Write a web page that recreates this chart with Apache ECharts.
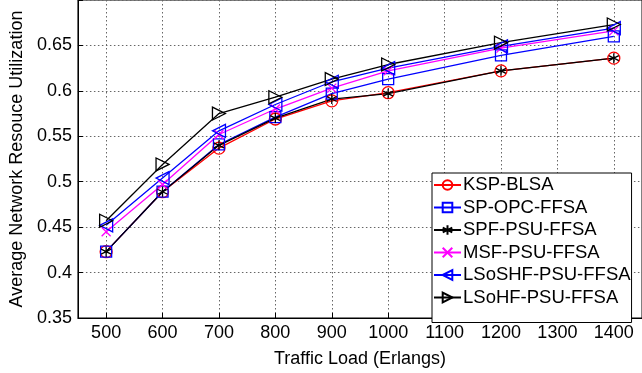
<!DOCTYPE html>
<html>
<head>
<meta charset="utf-8">
<script src="https://cdn.jsdelivr.net/npm/echarts@6/dist/echarts.min.js"></script>
<style>
html,body{margin:0;padding:0;background:#fff;}
#chart{width:642px;height:373px;}
</style>
</head>
<body>
<div id="chart"></div>
<script>
var traffic = [500, 600, 700, 800, 900, 1000, 1200, 1400];
var xTicks = [500, 600, 700, 800, 900, 1000, 1100, 1200, 1300, 1400];
var seriesNames = ['KSP-BLSA', 'SP-OPC-FFSA', 'SPF-PSU-FFSA', 'MSF-PSU-FFSA', 'LSoSHF-PSU-FFSA', 'LSoHF-PSU-FFSA'];
var kspBlsa   = [0.423, 0.489, 0.537, 0.569, 0.589, 0.598, 0.622, 0.636];
var spOpc     = [0.423, 0.489, 0.541, 0.571, 0.597, 0.613, 0.639, 0.660];
var spfPsu    = [0.423, 0.489, 0.540, 0.570, 0.591, 0.597, 0.622, 0.636];
var msfPsu    = [0.445, 0.497, 0.552, 0.580, 0.603, 0.622, 0.647, 0.666];
var lsoshfPsu = [0.452, 0.504, 0.556, 0.585, 0.610, 0.625, 0.649, 0.669];
var lsohfPsu  = [0.457, 0.519, 0.575, 0.593, 0.613, 0.629, 0.653, 0.673];

var values = [kspBlsa, spOpc, spfPsu, msfPsu, lsoshfPsu, lsohfPsu];
var colors = ['#ff0000', '#0000ff', '#000000', '#ff00ff', '#0000ff', '#000000'];
var symbols = [
  'circle',
  'rect',
  'path://M0,-1L0,1M-0.87,-0.5L0.87,0.5M-0.87,0.5L0.87,-0.5',
  'path://M-1,-1L1,1M-1,1L1,-1',
  'path://M-1,0L1,-1L1,1Z',
  'path://M1,0L-1,-1L-1,1Z'
];
var sizes = [12, 11, 10, 9, 13, 13];
var font = 'Liberation Sans, Arial, sans-serif';

function pairs(ys) { return traffic.map(function (x, i) { return [x, ys[i]]; }); }

var series = seriesNames.map(function (name, i) {
  return {
    name: name,
    type: 'line',
    data: pairs(values[i]),
    symbol: symbols[i],
    symbolSize: sizes[i],
    showAllSymbol: true,
    lineStyle: { color: colors[i], width: 1.3 },
    itemStyle: { color: 'rgba(255,255,255,0)', borderColor: colors[i], borderWidth: 1.3 },
    emphasis: { disabled: true },
    animation: false
  };
});

var chart = echarts.init(document.getElementById('chart'), null, { renderer: 'canvas' });
chart.setOption({
  backgroundColor: '#ffffff',
  animation: false,
  grid: { left: 67, right: -3, top: 0, bottom: 48, show: true, borderColor: '#000', borderWidth: 1, backgroundColor: 'transparent' },
  legend: {
    orient: 'vertical',
    left: 432, top: 173,
    data: seriesNames,
    backgroundColor: '#ffffff',
    borderColor: '#000',
    borderWidth: 1,
    borderRadius: 0,
    padding: [2, 1, 15, 1],
    itemGap: 2.5,
    itemWidth: 27,
    itemHeight: 12,
    textStyle: { fontFamily: font, fontSize: 18.5, color: '#000', lineHeight: 20, padding: [0, 0, 0, -3] }
  },
  xAxis: {
    type: 'value',
    min: 450, max: 1450,
    name: 'Traffic Load (Erlangs)',
    nameLocation: 'middle',
    nameGap: 32,
    nameTextStyle: { fontFamily: font, fontSize: 18, color: '#000' },
    axisLine: { show: true, lineStyle: { color: '#000', width: 1 } },
    axisTick: { show: true, inside: true, length: 5, lineStyle: { color: '#000' }, customValues: xTicks },
    axisLabel: { fontFamily: font, fontSize: 18, color: '#000', margin: 6, customValues: xTicks,
      formatter: function (v) { return String(v); } },
    splitLine: { show: true, lineStyle: { color: '#666', type: [1.5, 2.5], width: 1 } }
  },
  yAxis: {
    type: 'value',
    min: 0.35, max: 0.7, interval: 0.05,
    name: 'Average Network Resouce Utilization',
    nameLocation: 'middle',
    nameGap: 50,
    nameTextStyle: { fontFamily: font, fontSize: 18, color: '#000' },
    axisLine: { show: true, lineStyle: { color: '#000', width: 1 } },
    axisTick: { show: true, inside: true, length: 5, lineStyle: { color: '#000' } },
    axisLabel: {
      fontFamily: font, fontSize: 18, color: '#000', margin: 6,
      formatter: function (v) { return v > 0.69 ? '' : String(+v.toFixed(2)); }
    },
    splitLine: { show: true, lineStyle: { color: '#666', type: [1.5, 2.5], width: 1 } }
  },
  series: series
});
</script>
</body>
</html>
